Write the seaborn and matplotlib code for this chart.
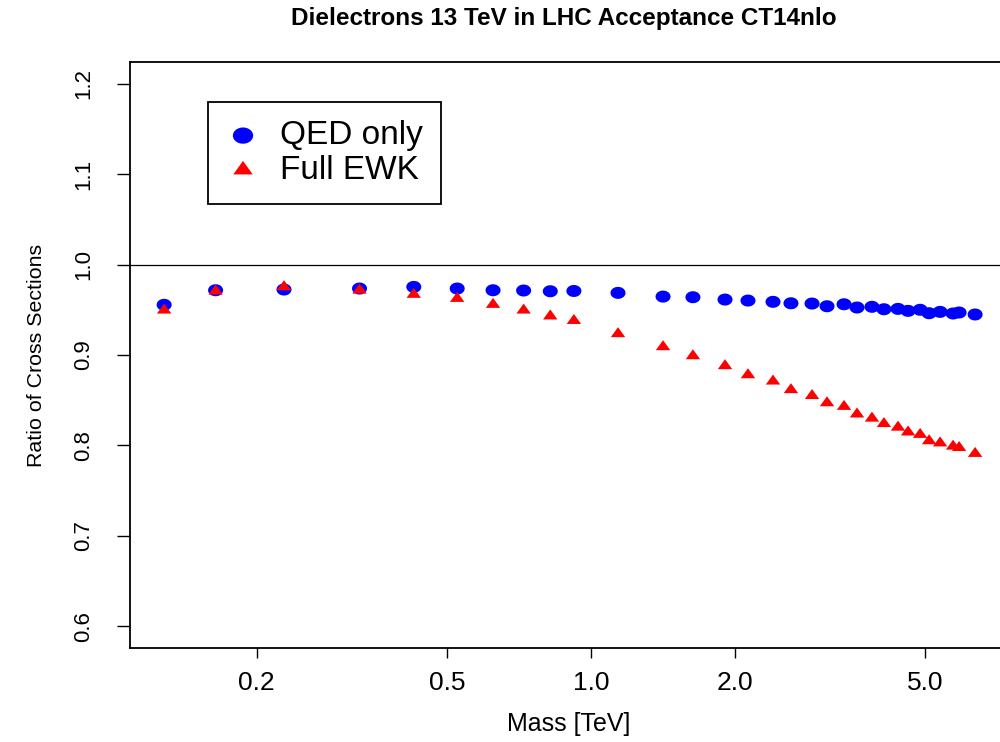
import numpy as np
import pandas as pd
import matplotlib
matplotlib.use("Agg")
import matplotlib.pyplot as plt
from matplotlib.path import Path
import seaborn as sns

mass = [0.128, 0.164, 0.228, 0.328, 0.426, 0.525, 0.624, 0.723, 0.822, 0.921,
        1.139, 1.415, 1.634, 1.907, 2.13, 2.403, 2.62, 2.90, 3.117, 3.383,
        3.601, 3.87, 4.10, 4.387, 4.605, 4.88, 5.096, 5.373, 5.72, 5.888, 6.36]
qed_only = [0.9555, 0.9716, 0.9724, 0.9735, 0.9753, 0.9735, 0.9716, 0.9713, 0.9705, 0.9708,
            0.9687, 0.9646, 0.9639, 0.9613, 0.9602, 0.9588, 0.9572, 0.9569, 0.9539, 0.9561,
            0.9525, 0.9533, 0.9506, 0.9510, 0.9488, 0.9500, 0.9462, 0.9477, 0.9459, 0.9470, 0.9448]
full_ewk = [0.9495, 0.9705, 0.9753, 0.9716, 0.9669, 0.9624, 0.9558, 0.9495, 0.9430, 0.9380,
            0.9234, 0.9090, 0.8990, 0.8880, 0.8780, 0.8710, 0.8615, 0.8550, 0.8470, 0.8430,
            0.8346, 0.8300, 0.8240, 0.8200, 0.8147, 0.8120, 0.8050, 0.8026, 0.7990, 0.7975, 0.7910]
series_names = ["QED only", "Full EWK"]
x_ticks = [0.2, 0.5, 1.0, 2.0, 5.0]
x_tick_labels = ["0.2", "0.5", "1.0", "2.0", "5.0"]
y_ticks = [0.6, 0.7, 0.8, 0.9, 1.0, 1.1, 1.2]
y_tick_labels = ["0.6", "0.7", "0.8", "0.9", "1.0", "1.1", "1.2"]

sns.set_theme(style="white")
plt.rcParams["font.family"] = ["Liberation Sans", "DejaVu Sans"]
plt.rcParams["text.color"] = "black"
plt.rcParams["axes.labelcolor"] = "black"
plt.rcParams["xtick.color"] = "black"
plt.rcParams["ytick.color"] = "black"

df = pd.DataFrame({
    "mass": mass * 2,
    "ratio": qed_only + full_ewk,
    "series": [series_names[0]] * len(mass) + [series_names[1]] * len(mass),
})

# custom markers (slightly wider than tall, as in the reference)
k = 1.25
t = np.linspace(0, 2 * np.pi, 60)
ellipse = Path(np.column_stack([k * np.cos(t), np.sin(t)]), closed=True)
tri = Path([(0, 1), (-0.866 * k, -0.5), (0.866 * k, -0.5), (0, 1)], closed=True)

W, H = 1000, 742
fig = plt.figure(figsize=(10, 7.42), dpi=100)
ax = fig.add_axes([130 / W, 1 - 648 / H, 870 / W, (648 - 62) / H])

sns.scatterplot(data=df[df.series == series_names[0]], x="mass", y="ratio",
                marker=ellipse, s=117, color="#0000ff", edgecolor="none",
                linewidth=0, ax=ax, label=series_names[0], zorder=3)
sns.scatterplot(data=df[df.series == series_names[1]], x="mass", y="ratio",
                marker=tri, s=108, color="#ff0000", edgecolor="none",
                linewidth=0, ax=ax, label=series_names[1], zorder=4)

ax.axhline(1.0, color="black", linewidth=0.9, zorder=2)

ax.set_xscale("log")
ax.set_xlim(0.1086, 7.17)
ax.set_ylim(0.576, 1.224)
ax.set_xticks(x_ticks)
ax.set_xticklabels(x_tick_labels, fontsize=19)
ax.xaxis.set_minor_locator(matplotlib.ticker.NullLocator())
ax.set_yticks(y_ticks)
ax.set_yticklabels(y_tick_labels, fontsize=16, rotation=90, va="center")
ax.tick_params(axis="x", which="major", direction="out", length=7, width=1.0,
               color="black", labelcolor="black", pad=9.5, bottom=True)
ax.tick_params(axis="y", which="major", direction="out", length=9.5, width=1.0,
               color="black", labelcolor="black", pad=16, left=True)

for side in ["left", "bottom", "top"]:
    ax.spines[side].set_visible(True)
    ax.spines[side].set_color("black")
    ax.spines[side].set_linewidth(1.3)
ax.spines["right"].set_visible(False)

ax.set_xlabel("Mass [TeV]", fontsize=18, color="black")
ax.set_ylabel("Ratio of Cross Sections", fontsize=15.4, color="black")
ax.xaxis.set_label_coords((568.5 - 130) / 870, (648 - 712) / 586)
ax.yaxis.set_label_coords((46 - 130) / 870, 0.5)

fig.text(563.5 / W, 1 - 18.5 / H, "Dielectrons 13 TeV in LHC Acceptance CT14nlo",
         ha="center", va="center", fontsize=17.5, fontweight="bold", color="black")

leg = ax.legend(loc="upper left", bbox_to_anchor=(208 / W, 1 - 102 / H),
                bbox_transform=fig.transFigure, borderaxespad=0, fancybox=False,
                frameon=True, fontsize=24, handletextpad=0.6, borderpad=0.55,
                labelspacing=0.1, handlelength=1.0, markerscale=1.35)
leg.get_frame().set_edgecolor("black")
leg.get_frame().set_linewidth(1.3)
leg.get_frame().set_facecolor("white")
leg.get_frame().set_alpha(1)
for txt in leg.get_texts():
    txt.set_color("black")

fig.savefig("out.png", dpi=100, facecolor="white")
